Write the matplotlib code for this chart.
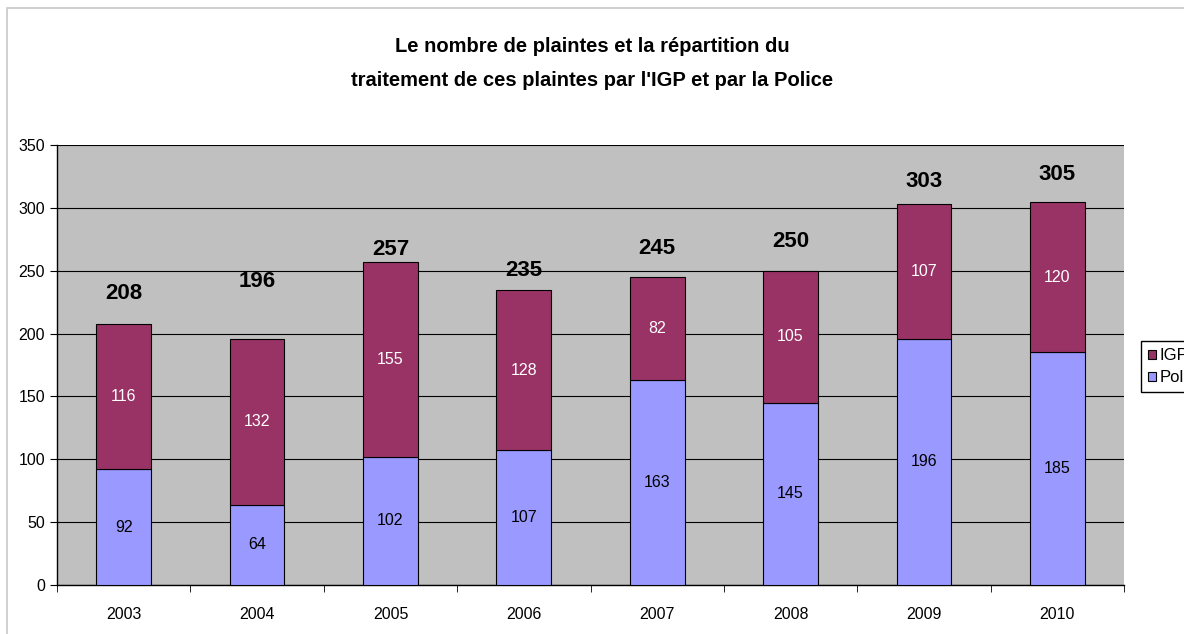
import matplotlib
matplotlib.use("Agg")
import matplotlib.pyplot as plt
from matplotlib.patches import Rectangle
import numpy as np

years = ["2003", "2004", "2005", "2006", "2007", "2008", "2009", "2010"]
police = [92, 64, 102, 107, 163, 145, 196, 185]
igp = [116, 132, 155, 128, 82, 105, 107, 120]
totals = [208, 196, 257, 235, 245, 250, 303, 305]
# the total labels were placed by hand in the original, at these heights
total_label_y = [231.5, 241.8, 267, 250, 267.3, 273.6, 321.3, 326.2]

plt.rcParams['font.family'] = ['Liberation Sans', 'DejaVu Sans']

fig = plt.figure(figsize=(11.84, 6.34), dpi=100)
# outer chart border
fig.patches.append(Rectangle((7 / 1184, -0.01), 1.02, 1 - 8 / 634 + 0.01,
                             transform=fig.transFigure, fill=False,
                             edgecolor='#c8c8c8', linewidth=1.2))

ax = fig.add_axes([57 / 1184, 49 / 634, 1067 / 1184, 440 / 634])
ax.set_facecolor('#c0c0c0')

x = np.arange(len(years))
w = 0.41
b1 = ax.bar(x, police, w, color='#9999ff', edgecolor='black', linewidth=0.8, label='Police', zorder=3)
b2 = ax.bar(x, igp, w, bottom=police, color='#993366', edgecolor='black', linewidth=0.8, label='IGP', zorder=3)

for i in range(len(years)):
    ax.text(x[i], police[i] / 2, str(police[i]), ha='center', va='center', fontsize=11.5, color='black', zorder=4)
    ax.text(x[i], police[i] + igp[i] / 2, str(igp[i]), ha='center', va='center', fontsize=11.5, color='white', zorder=4)
    ax.text(x[i], total_label_y[i], str(totals[i]), ha='center', va='center', fontsize=16,
            fontweight='bold', zorder=4)

ax.set_xlim(-0.5, len(years) - 0.5)
ax.set_ylim(0, 350)
ax.set_yticks(range(0, 351, 50))
ax.set_xticks(x)
ax.set_xticklabels(years, fontsize=11.5)
ax.set_xticks(np.arange(-0.5, len(years), 1), minor=True)
ax.tick_params(axis='x', which='major', length=0, pad=16)
ax.tick_params(axis='x', which='minor', length=5, direction='out')
ax.tick_params(axis='y', length=5, labelsize=11.5)
ax.yaxis.grid(True, color='black', linewidth=0.8, zorder=0)
ax.set_axisbelow(True)
for s in ['top', 'right']:
    ax.spines[s].set_visible(False)
ax.spines['left'].set_linewidth(1)
ax.spines['bottom'].set_linewidth(1)

fig.text(0.5, 1 - 63 / 634, "Le nombre de plaintes et la répartition du\ntraitement de ces plaintes par l'IGP et par la Police",
         ha='center', va='center', fontsize=14.5, fontweight='bold', linespacing=2.0)

leg = fig.legend([b2, b1], ['IGP', 'Police'], loc='upper left',
                 bbox_to_anchor=(1133 / 1184, 1 - 333 / 634), fontsize=12,
                 frameon=True, fancybox=False, edgecolor='black', framealpha=1,
                 handlelength=0.45, handleheight=0.45, handletextpad=0.25,
                 borderpad=0.4, labelspacing=0.45)
leg.get_frame().set_linewidth(1)

fig.savefig("out.png", dpi=100)
